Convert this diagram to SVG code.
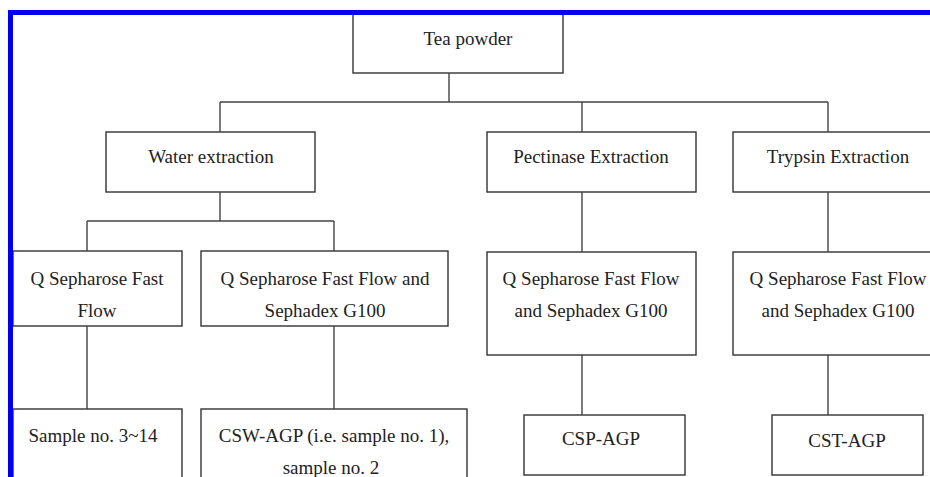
<svg xmlns="http://www.w3.org/2000/svg" width="930" height="477" viewBox="0 0 930 477">
<style>
.box{fill:#fff;stroke:#333;stroke-width:1.4}
.t{font-family:"Liberation Serif","Times New Roman",serif;font-size:19px;fill:#222;text-anchor:middle}
.c{fill:none;stroke:#444;stroke-width:1.4}
</style>
<rect width="930" height="477" fill="#fff"/>
<g id="n-tea"><rect class="box" x="353" y="13" width="210" height="60"/><text class="t" x="468" y="45">Tea powder</text></g>
<g id="n-water"><rect class="box" x="106" y="132" width="209" height="60"/><text class="t" x="211" y="163">Water extraction</text></g>
<g id="n-pect"><rect class="box" x="487" y="132" width="209" height="60"/><text class="t" x="591" y="163">Pectinase Extraction</text></g>
<g id="n-tryp"><rect class="box" x="733" y="132" width="210" height="60"/><text class="t" x="838" y="163">Trypsin Extraction</text></g>
<g id="n-qsff"><rect class="box" x="13" y="251" width="169" height="75"/><text class="t" x="97" y="285">Q Sepharose Fast</text><text class="t" x="97" y="317">Flow</text></g>
<g id="n-qw"><rect class="box" x="201" y="251" width="247" height="75"/><text class="t" x="325" y="285">Q Sepharose Fast Flow and</text><text class="t" x="325" y="317">Sephadex G100</text></g>
<g id="n-qp"><rect class="box" x="487" y="252" width="209" height="103"/><text class="t" x="591" y="285">Q Sepharose Fast Flow</text><text class="t" x="591" y="317">and Sephadex G100</text></g>
<g id="n-qt"><rect class="box" x="733" y="252" width="210" height="103"/><text class="t" x="838" y="285">Q Sepharose Fast Flow</text><text class="t" x="838" y="317">and Sephadex G100</text></g>
<g id="n-sample"><rect class="box" x="13" y="409" width="169" height="80"/><text class="t" x="93" y="442">Sample no. 3~14</text></g>
<g id="n-csw"><rect class="box" x="201" y="409" width="266" height="80"/><text class="t" x="334" y="442">CSW-AGP (i.e. sample no. 1),</text><text class="t" x="331" y="474">sample no. 2</text></g>
<g id="n-csp"><rect class="box" x="524" y="415" width="161" height="60"/><text class="t" x="601" y="445">CSP-AGP</text></g>
<g id="n-cst"><rect class="box" x="772" y="415" width="151" height="60"/><text class="t" x="847" y="447">CST-AGP</text></g>
<g id="connectors">
<path class="c" d="M449 73V102M220 102H828M220 102V132M582 102V132M828 102V132"/>
<path class="c" d="M220 192V221M87 221H334M87 221V251M334 221V251"/>
<path class="c" d="M582 192V252M828 192V252"/>
<path class="c" d="M87 326V409M334 326V409M582 355V415M828 355V415"/>
</g>
<g id="frame" fill="#0000f0">
<rect x="8" y="10" width="922" height="5"/>
<rect x="8" y="10" width="5" height="467"/>
</g>
</svg>
